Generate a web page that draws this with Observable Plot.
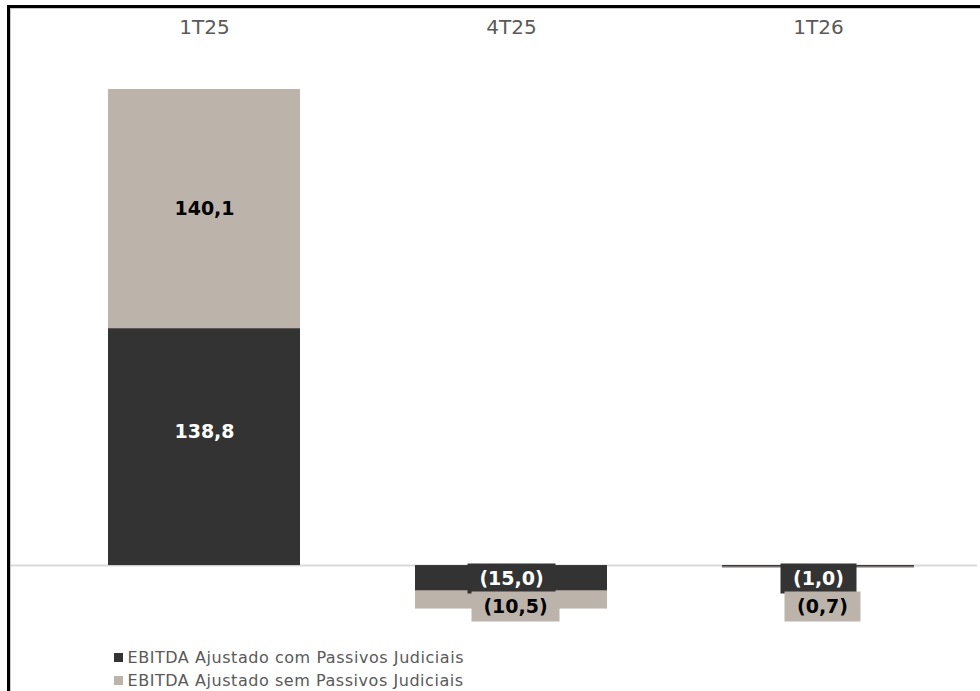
<!DOCTYPE html>
<html><head><meta charset="utf-8">
<script src="https://cdn.jsdelivr.net/npm/d3@7"></script>
<script src="https://cdn.jsdelivr.net/npm/@observablehq/plot@0.6"></script>
<style>
html,body{margin:0;padding:0;background:#fff;}
#wrap{position:relative;width:980px;height:691px;overflow:hidden;background:#fff;font-family:"DejaVu Sans",Verdana,sans-serif;}
#bl{position:absolute;left:7px;top:5px;width:3px;height:686px;background:#000;}
#bt{position:absolute;left:7px;top:5px;width:973px;height:3px;background:#000;}
#gl{position:absolute;left:10px;top:8px;width:1px;height:683px;background:#c8c8c8;}
#gt{position:absolute;left:10px;top:8px;width:970px;height:1px;background:#c8c8c8;}
#chart{position:absolute;left:0;top:0;}
#legend{position:absolute;left:114px;top:646px;font-size:16px;letter-spacing:0.55px;color:#595959;line-height:23px;}
.item{display:flex;align-items:center;white-space:nowrap;}
.sw{width:8.5px;height:8.5px;margin-right:5px;flex:none;}
</style></head><body>
<div id="wrap"><div id="chart"></div><div id="gl"></div><div id="gt"></div><div id="bl"></div><div id="bt"></div><div id="legend"></div></div>
<script>
const categories = ["1T25", "4T25", "1T26"];
const seriesNames = ["EBITDA Ajustado com Passivos Judiciais", "EBITDA Ajustado sem Passivos Judiciais"];
const comValues = [138.8, -15.0, -1.0];
const semValues = [140.1, -10.5, -0.7];
const seriesColors = ["#333333", "#bcb4ab"];
const labelColors = ["#ffffff", "#000000"];

const fmt = v => { const s = Math.abs(v).toFixed(1).replace(".", ","); return v < 0 ? `(${s})` : s; };

const rows = categories.flatMap((c, i) => [
  {category: c, series: seriesNames[0], s: 0, value: comValues[i]},
  {category: c, series: seriesNames[1], s: 1, value: semValues[i]}
]);

const boxSymbol = {
  draw(ctx, size) {
    const len = Math.sqrt(size / Math.PI);
    const w = 12 * len + 16, h = 30;
    ctx.moveTo(-w / 2, -h / 2);
    ctx.lineTo(w / 2, -h / 2);
    ctx.lineTo(w / 2, h / 2);
    ctx.lineTo(-w / 2, h / 2);
    ctx.closePath();
  }
};

const negDark = rows.filter(d => d.value < 0 && d.s === 0);
const negTan = rows.filter(d => d.value < 0 && d.s === 1);
const labelFont = {fontSize: 19, fontWeight: "bold", fontFamily: "'DejaVu Sans', Verdana, sans-serif"};

const chart = Plot.plot({
  width: 980,
  height: 640,
  marginTop: 68,
  marginBottom: 6,
  marginLeft: 10,
  marginRight: 3,
  style: {fontFamily: "'DejaVu Sans', Verdana, sans-serif", background: "transparent", overflow: "visible"},
  x: {domain: categories, range: [107.5, 914], paddingInner: 0.375, paddingOuter: 0, axis: null},
  y: {domain: [-40.4, 291.2], axis: null},
  r: {type: "identity"},
  color: {domain: seriesNames, range: seriesColors},
  marks: [
    Plot.ruleY([0], {stroke: "#d9d9d9", strokeWidth: 2}),
    Plot.barY(rows, {x: "category", y: "value", fill: "series"}),
    Plot.text(categories, {x: d => d, frameAnchor: "top", lineAnchor: "middle", dy: -41, fontSize: 20, fill: "#595959"}),
    // positive labels (stack midpoints)
    Plot.text(rows, Plot.filter(d => d.value > 0 && d.s === 0,
      Plot.stackY({x: "category", y: "value", z: "series", text: d => fmt(d.value), fill: labelColors[0], dy: -15, ...labelFont}))),
    Plot.text(rows, Plot.filter(d => d.value > 0 && d.s === 1,
      Plot.stackY({x: "category", y: "value", z: "series", text: d => fmt(d.value), fill: labelColors[1], ...labelFont}))),
    // negative labels with boxes
    Plot.dot(negDark, {x: "category", y: 0, dy: 13, r: d => fmt(d.value).length, symbol: boxSymbol, fill: seriesColors[0], stroke: "none"}),
    Plot.text(negDark, {x: "category", y: 0, dy: 13, text: d => fmt(d.value), fill: labelColors[0], ...labelFont}),
    Plot.dot(negTan, {x: "category", y: 0, dy: 41, dx: 4, r: d => fmt(d.value).length, symbol: boxSymbol, fill: seriesColors[1], stroke: "none"}),
    Plot.text(negTan, {x: "category", y: 0, dy: 41, dx: 4, text: d => fmt(d.value), fill: labelColors[1], ...labelFont})
  ]
});
document.getElementById("chart").appendChild(chart);

const legend = document.getElementById("legend");
seriesNames.forEach((name, i) => {
  const item = document.createElement("div");
  item.className = "item";
  const sw = document.createElement("span");
  sw.className = "sw";
  sw.style.background = seriesColors[i];
  const t = document.createElement("span");
  t.textContent = name;
  item.appendChild(sw);
  item.appendChild(t);
  legend.appendChild(item);
});
</script>
</body></html>
